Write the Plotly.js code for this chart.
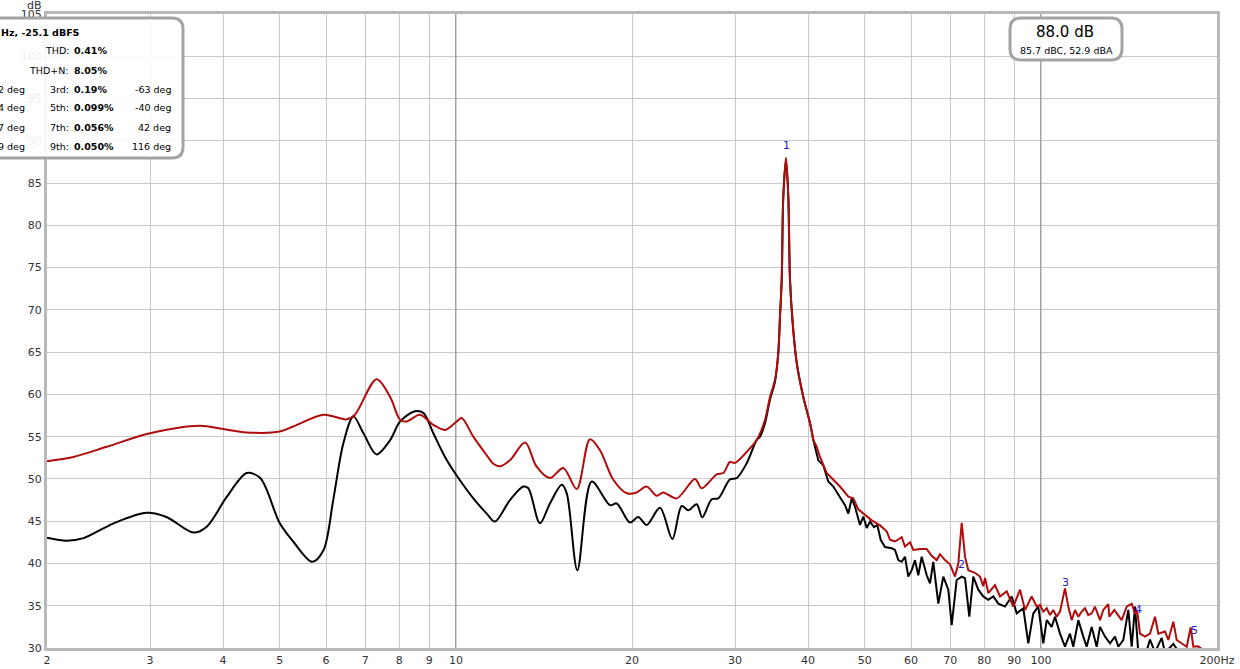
<!DOCTYPE html>
<html>
<head>
<meta charset="utf-8">
<script src="https://cdn.plot.ly/plotly-3.0.1.min.js"></script>
<style>
  html, body { margin: 0; padding: 0; background: #ffffff; }
  #chart { width: 1240px; height: 669px; }
</style>
</head>
<body>
<div id="chart"></div>
<script>
// ---------------- DATA ----------------
const redHz = [2.00,2.22,2.53,3.00,3.65,4.00,4.39,5.00,5.27,5.94,
  6.51,6.72,7.32,7.72,8.03,8.24,8.68,9.15,9.58,10.03,
  10.23,10.71,11.29,11.59,11.90,12.37,13.13,13.74,14.48,15.26,
  16.09,16.95,17.63,18.58,19.59,20.37,21.19,22.04,22.62,23.85,
  25.63,26.31,27.91,28.65,29.41,30.00,31.41,32.67,33.76,34.43,
  35.11,35.57,35.81,36.05,36.28,36.67,37.00,37.25,37.65,38.25,
  39.25,40.30,40.83,41.38,41.92,43.04,44.17,45.35,46.86,47.79,
  48.74,50.04,51.38,53.09,54.50,55.22,56.31,57.82,58.57,59.74,
  60.52,62.14,63.80,65.06,66.36,67.22,68.56,69.92,71.31,72.25,
  73.22,74.18,75.15,77.15,78.69,79.72,80.25,81.30,83.47,85.13,
  87.41,89.71,92.11,93.94,96.44,98.36,99.65,100.95,102.31,103.65,
  105.0,106.42,107.80,109.95,111.38,112.88,114.37,115.86,117.42,118.96,
  120.51,122.13,123.72,126.19,127.84,130.38,130.90,133.50,137.44,140.17,
  142.96,144.83,146.14,147.71,150.64,153.64,156.70,158.74,162.98,165.12,
  168.40,170.67,174.06,177.52,180.34,182.20,185.81,190.78,200];
const redDb = [52.1,52.6,53.8,55.4,56.3,55.9,55.5,55.6,56.2,57.6,
  57.05,57.6,61.8,59.7,57.0,56.8,57.6,56.4,55.8,56.8,
  57.2,55.0,52.8,51.8,51.5,52.2,54.3,51.45,50.1,51.3,
  48.8,54.7,53.4,49.9,48.3,48.4,49.1,48.0,48.4,47.7,
  50.0,48.9,50.55,50.7,52.0,51.9,53.2,54.6,57.0,59.7,
  61.7,64.9,69.2,73.5,83.4,88.0,83.4,73.5,68.4,63.7,
  59.7,56.6,54.6,53.8,52.6,50.7,49.9,49.1,47.9,47.7,
  46.4,45.7,45.1,44.5,43.8,42.8,42.6,43.1,42.0,42.5,
  41.6,41.7,41.7,40.9,40.4,41.1,40.4,39.9,38.45,40.0,
  44.8,40.8,39.2,38.9,38.45,37.3,38.3,36.5,37.45,36.1,
  36.7,34.9,36.9,34.5,36.1,34.9,35.1,34.3,34.7,33.9,
  34.5,33.7,34.3,37.05,34.9,33.3,34.5,33.7,34.3,34.7,
  33.9,34.1,34.9,33.3,34.5,35.2,33.7,34.5,33.3,34.9,
  35.25,34.1,34.3,31.7,31.35,31.7,33.7,31.7,31.95,30.95,
  33.1,30.95,30.55,30.15,32.45,30.15,30.2,29.6,29.3];

const blackHz = [2.00,2.16,2.31,2.60,2.96,3.20,3.56,3.75,4.06,4.39,
  4.63,5.00,5.27,5.68,5.94,6.17,6.42,6.68,6.95,7.32,
  7.72,8.03,8.51,8.80,9.15,9.58,10.03,10.71,11.29,11.66,
  12.37,13.04,13.30,13.92,14.48,15.17,15.47,16.13,17.07,18.34,
  18.83,19.84,20.50,21.19,22.33,23.44,24.32,24.96,25.80,26.37,
  27.37,28.09,29.41,30.20,31.41,32.67,33.10,33.76,34.43,35.11,
  35.57,35.81,36.05,36.28,36.67,37.00,37.25,37.65,38.25,39.25,
  40.30,40.83,41.64,42.47,43.31,44.17,45.35,46.26,46.86,47.49,
  48.11,49.07,49.71,50.38,51.04,51.85,52.53,53.23,54.14,55.59,
  56.31,57.05,57.82,58.57,59.34,60.14,60.92,61.72,62.55,63.80,
  64.63,65.47,66.78,68.10,69.46,70.39,71.79,73.22,74.18,75.44,
  76.64,78.16,79.72,81.30,82.92,84.57,86.83,89.15,90.92,93.31,
  95.16,97.05,98.98,100.95,102.31,104.34,105.71,107.80,109.95,112.13,
  113.60,115.86,118.16,119.75,122.13,124.55,126.19,128.70,131.26,133.87,
  135.62,138.31,141.06,142.96,144.83,146.72,150.64,153.64,156.70,160.88,
  162.98,168.40,174.06,180.34,200];
const blackDb = [43.05,42.7,43.0,44.75,46.0,45.5,43.65,44.35,47.9,50.7,
  50.1,44.75,42.6,40.2,41.6,47.5,54.2,57.4,55.4,52.9,
  54.6,56.8,58.0,57.8,55.4,52.6,50.4,47.7,45.9,44.95,
  47.5,49.1,48.9,44.75,47.1,49.3,48.3,39.2,49.7,46.9,
  47.1,44.85,45.5,44.55,46.6,42.9,46.8,46.3,47.0,45.45,
  47.6,47.7,49.95,50.1,51.85,54.6,55.0,56.6,59.4,61.5,
  64.9,69.2,73.5,83.4,87.8,83.4,73.5,68.4,63.7,59.7,
  56.6,54.6,52.2,51.6,49.7,49.1,47.9,46.9,45.9,47.7,
  46.7,44.55,45.55,44.2,44.95,44.3,44.55,42.8,41.95,41.8,
  41.6,40.4,40.2,40.8,38.45,39.2,40.4,38.6,40.8,38.6,
  37.65,40.2,35.25,38.45,36.9,32.7,38.05,38.45,38.25,33.7,
  38.45,36.9,36.1,35.7,36.1,35.25,34.9,36.1,34.1,34.7,
  30.55,34.1,34.9,30.55,33.3,32.5,33.7,31.7,30.15,31.7,
  30.15,33.3,31.35,30.15,32.5,30.15,32.5,31.35,30.55,31.35,
  30.15,30.95,34.5,30.15,34.9,29.5,29.0,31.0,29.5,31.2,
  29.4,30.5,29.0,29.0,28.0];

const xTickHz = [2,3,4,5,6,7,8,9,10,20,30,40,50,60,70,80,90,100,200];
const xTickText = ['2','3','4','5','6','7','8','9','10','20','30','40','50','60','70','80','90','100','200Hz'];
const yTickDb = [30,35,40,45,50,55,60,65,70,75,80,85,90,95,100,105];
const gridMajorHz = [10, 100];
const yRange = [30, 105];
const xRangeHz = [2, 200];

const peakLabels = ['1','2','3','4','5'];
const peakHz = [36.67, 73.3, 110.0, 146.7, 183.3];
const peakLabelDb = [89.4, 39.9, 37.7, 34.6, 32.1];

const headerText = 'Hz, -25.1 dBFS';
const thdRows = [['THD:', '0.41%'], ['THD+N:', '8.05%']];
const harmLeftPhase = ['2 deg', '4 deg', '7 deg', '9 deg'];
const harmNames = ['3rd:', '5th:', '7th:', '9th:'];
const harmPct = ['0.19%', '0.099%', '0.056%', '0.050%'];
const harmPhase = ['-63 deg', '-40 deg', '42 deg', '116 deg'];
const splText = '88.0 dB';
const weightedText = '85.7 dBC, 52.9 dBA';
const yUnit = 'dB';

// ---------------- LAYOUT HELPERS ----------------
const W = 1240, H = 669;
const M = {l: 47, r: 23, t: 14, b: 21};
const PW = W - M.l - M.r, PH = H - M.t - M.b;
const px = x => (x - M.l) / PW;
const py = y => (H - M.b - y) / PH;

function roundRect(x0, y0, x1, y1, r) {
  const P = (x, y) => px(x).toFixed(5) + ',' + py(y).toFixed(5);
  return 'M' + P(x0 + r, y0) + ' L' + P(x1 - r, y0) + ' Q' + P(x1, y0) + ' ' + P(x1, y0 + r) +
    ' L' + P(x1, y1 - r) + ' Q' + P(x1, y1) + ' ' + P(x1 - r, y1) +
    ' L' + P(x0 + r, y1) + ' Q' + P(x0, y1) + ' ' + P(x0, y1 - r) +
    ' L' + P(x0, y0 + r) + ' Q' + P(x0, y0) + ' ' + P(x0 + r, y0) + ' Z';
}

const FONT = 'DejaVu Sans, Verdana, sans-serif';
const RED = '#b00c0c';

// split series into smooth low-frequency part and jagged high-frequency part
function splitAt(hz, db, fSplit) {
  let k = hz.findIndex(f => f > fSplit);
  if (k < 0) k = hz.length;
  return {
    smooth: {x: hz.slice(0, k + 1), y: db.slice(0, k + 1)},
    rough: {x: hz.slice(k), y: db.slice(k)}
  };
}

const traces = [];
gridMajorHz.forEach(f => {
  traces.push({x: [f, f], y: yRange, mode: 'lines', line: {color: '#8a8a8a', width: 1},
    hoverinfo: 'skip', showlegend: false});
});

[[blackHz, blackDb, '#000000'], [redHz, redDb, RED]].forEach(([hz, db, col]) => {
  const s = splitAt(hz, db, 40.3);
  traces.push({x: s.smooth.x, y: s.smooth.y, mode: 'lines', showlegend: false,
    line: {color: col, width: 2, shape: 'spline', smoothing: 0.9}});
  traces.push({x: s.rough.x, y: s.rough.y, mode: 'lines', showlegend: false,
    line: {color: col, width: 2}});
});

const annotations = [];
function txt(text, x, y, anchor, size, color, extra) {
  annotations.push(Object.assign({
    text: text, xref: 'paper', yref: 'paper', x: px(x), y: py(y),
    xanchor: anchor, yanchor: 'middle', showarrow: false, borderpad: 0,
    font: {family: FONT, size: size, color: color || '#000'}
  }, extra || {}));
}

// dB unit label
txt(yUnit, 43, 5, 'right', 11, '#333');

// distortion box texts
txt('<b>' + headerText + '</b>', 0, 32, 'left', 9.5);
thdRows.forEach((r, i) => {
  const y = 51 + i * 19;
  txt(r[0], 70, y, 'right', 9.5);
  txt('<b>' + r[1] + '</b>', 73, y, 'left', 9.5);
});
harmNames.forEach((n, i) => {
  const y = 89 + i * 19;
  txt(harmLeftPhase[i], 26, y, 'right', 9.5);
  txt(n, 70, y, 'right', 9.5);
  txt('<b>' + harmPct[i] + '</b>', 73, y, 'left', 9.5);
  txt(harmPhase[i], 172, y, 'right', 9.5);
});

// SPL box texts
txt(splText, 1065, 32, 'center', 15);
txt(weightedText, 1066, 51, 'center', 9.5);

// harmonic peak labels (data coordinates; log axis -> log10)
peakLabels.forEach((l, i) => {
  annotations.push({text: l, xref: 'x', yref: 'y', x: Math.log10(peakHz[i]), y: peakLabelDb[i],
    showarrow: false, xanchor: 'center', yanchor: 'middle', borderpad: 0,
    font: {family: FONT, size: 11, color: '#2020c0'}});
});

const shapes = [
  {type: 'path', xref: 'paper', yref: 'paper', layer: 'above',
    path: roundRect(-20, 18, 183, 158, 11),
    fillcolor: 'rgba(255,255,255,0.9)', line: {color: '#a4a4a4', width: 3}},
  {type: 'path', xref: 'paper', yref: 'paper', layer: 'above',
    path: roundRect(1010, 18, 1122, 60, 11),
    fillcolor: 'rgba(255,255,255,0.95)', line: {color: '#a4a4a4', width: 3}}
];

const axisCommon = {
  showgrid: true, gridcolor: '#c8c8c8', gridwidth: 1,
  showline: true, linecolor: '#b9b9b9', linewidth: 3, mirror: true,
  ticks: '', zeroline: false, fixedrange: true,
  tickfont: {family: FONT, size: 11, color: '#333'}
};

const layout = {
  width: W, height: H,
  margin: M,
  paper_bgcolor: '#ffffff', plot_bgcolor: '#ffffff',
  showlegend: false,
  xaxis: Object.assign({}, axisCommon, {
    type: 'log', range: [Math.log10(xRangeHz[0]), Math.log10(xRangeHz[1])],
    tickmode: 'array', tickvals: xTickHz, ticktext: xTickText
  }),
  yaxis: Object.assign({}, axisCommon, {
    range: yRange, tickmode: 'array', tickvals: yTickDb,
    ticktext: yTickDb.map(String)
  }),
  annotations: annotations,
  shapes: shapes
};

Plotly.newPlot('chart', traces, layout, {displayModeBar: false, staticPlot: true});
</script>
</body>
</html>
